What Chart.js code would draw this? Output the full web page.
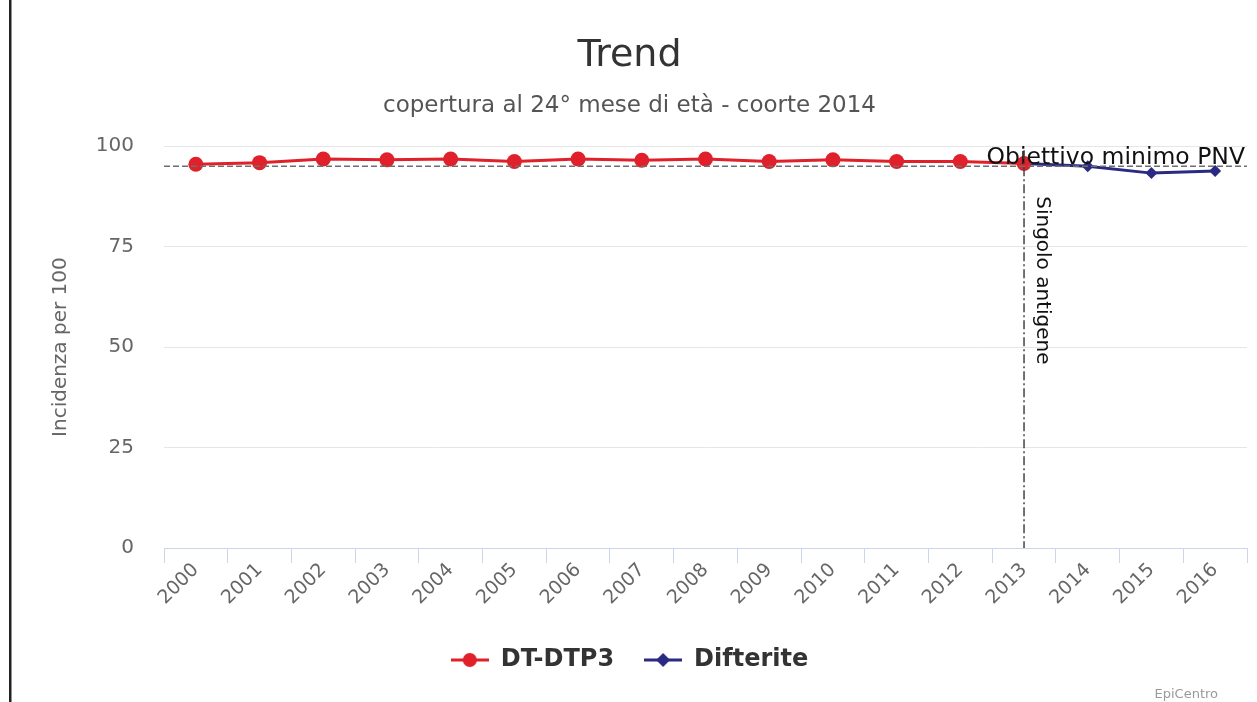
<!DOCTYPE html>
<html>
<head>
<meta charset="utf-8">
<script src="https://cdn.jsdelivr.net/npm/chart.js@4.4.1/dist/chart.umd.min.js"></script>
<style>
  html, body { margin: 0; padding: 0; background: #fff; }
  #wrap { width: 1257px; height: 702px; position: relative; }
</style>
</head>
<body>
<div id="wrap"><canvas id="chart"></canvas></div>
<script>
const years = ['2000','2001','2002','2003','2004','2005','2006','2007','2008',
               '2009','2010','2011','2012','2013','2014','2015','2016'];
const dtDtp3 = [95.5, 95.9, 96.8, 96.6, 96.8, 96.2, 96.8, 96.5, 96.8,
                96.2, 96.6, 96.2, 96.2, 95.7, null, null, null];
const difterite = [null, null, null, null, null, null, null, null, null,
                   null, null, null, null, 95.7, 95.0, 93.3, 93.8];
const yTicks = [0, 25, 50, 75, 100];
const goalValue = 95;
const goalLabel = 'Obiettivo minimo PNV';
const switchYear = '2013';
const switchLabel = 'Singolo antigene';

const RED = '#e0202a';
const BLUE = '#2a2a82';

// legend symbols: line with marker, like the original
function legendIcon(color, shape) {
    const c = document.createElement('canvas');
    c.width = 38; c.height = 16;
    const g = c.getContext('2d');
    g.strokeStyle = color; g.lineWidth = 3;
    g.beginPath(); g.moveTo(0, 8); g.lineTo(38, 8); g.stroke();
    g.fillStyle = color;
    g.beginPath();
    if (shape === 'circle') {
        g.arc(19, 8, 7, 0, Math.PI * 2);
    } else {
        g.moveTo(19, 1); g.lineTo(26, 8); g.lineTo(19, 15); g.lineTo(12, 8); g.closePath();
    }
    g.fill();
    return c;
}
const icons = [legendIcon(RED, 'circle'), legendIcon(BLUE, 'diamond')];

const extras = {
    id: 'extras',
    afterDatasetsDraw(chart) {
        const ctx = chart.ctx, a = chart.chartArea;
        const x = chart.scales.x, y = chart.scales.y;
        ctx.save();
        // goal line
        const gy = y.getPixelForValue(goalValue);
        ctx.strokeStyle = '#6e6e6e';
        ctx.lineWidth = 1.5;
        ctx.setLineDash([6, 3]);
        ctx.beginPath(); ctx.moveTo(a.left, gy); ctx.lineTo(a.right, gy); ctx.stroke();
        ctx.setLineDash([]);
        ctx.fillStyle = '#111';
        ctx.font = '23.5px "DejaVu Sans"';
        ctx.textAlign = 'right';
        ctx.textBaseline = 'bottom';
        ctx.fillText(goalLabel, a.right - 2, gy + 3);
        // single antigen switch
        const sx = x.getPixelForValue(years.indexOf(switchYear));
        ctx.strokeStyle = '#444';
        ctx.lineWidth = 1.5;
        ctx.setLineDash([9, 3, 2, 3]);
        ctx.beginPath(); ctx.moveTo(sx, a.top + 4); ctx.lineTo(sx, a.bottom); ctx.stroke();
        ctx.setLineDash([]);
        ctx.translate(sx + 8, a.top + 50);
        ctx.rotate(Math.PI / 2);
        ctx.textAlign = 'left';
        ctx.textBaseline = 'bottom';
        ctx.font = '20px "DejaVu Sans"';
        ctx.fillText(switchLabel, 0, 0);
        ctx.restore();
    },
    afterDraw(chart) {
        const ctx = chart.ctx;
        ctx.save();
        ctx.fillStyle = '#222';
        ctx.fillRect(9, 0, 2.5, chart.height);
        ctx.fillStyle = '#999';
        ctx.font = '13px "DejaVu Sans"';
        ctx.textAlign = 'right';
        ctx.textBaseline = 'alphabetic';
        ctx.fillText('EpiCentro', 1218, 698);
        ctx.restore();
    }
};

new Chart(document.getElementById('chart'), {
    type: 'line',
    data: {
        labels: years,
        datasets: [
            {
                label: 'DT-DTP3',
                data: dtDtp3,
                borderColor: RED,
                backgroundColor: RED,
                borderWidth: 3,
                pointStyle: 'circle',
                pointRadius: 7.5,
                pointHoverRadius: 7.5,
                pointBorderWidth: 0,
                spanGaps: false,
                clip: false
            },
            {
                label: 'Difterite',
                data: difterite,
                borderColor: BLUE,
                backgroundColor: BLUE,
                borderWidth: 3,
                pointStyle: 'rectRot',
                pointRadius: 6,
                pointHoverRadius: 6,
                pointBorderWidth: 0,
                clip: false
            }
        ]
    },
    options: {
        responsive: true,
        maintainAspectRatio: false,
        animation: false,
        layout: { padding: { left: 12, right: 10, top: 33, bottom: 20 } },
        plugins: {
            title: {
                display: true,
                text: 'Trend',
                color: '#333',
                font: { family: 'DejaVu Sans', size: 38, weight: 'normal' },
                padding: { top: 0, bottom: 14 }
            },
            subtitle: {
                display: true,
                text: 'copertura al 24° mese di età - coorte 2014',
                color: '#555',
                font: { family: 'DejaVu Sans', size: 23 },
                padding: { top: 0, bottom: 26 }
            },
            legend: {
                position: 'bottom',
                labels: {
                    color: '#333',
                    font: { family: 'DejaVu Sans', size: 24, weight: 'bold' },
                    usePointStyle: true,
                    pointStyleWidth: 38,
                    padding: 30,
                    generateLabels(chart) {
                        const items = Chart.defaults.plugins.legend.labels.generateLabels(chart);
                        items.forEach((it, i) => { it.pointStyle = icons[i]; });
                        return items;
                    }
                }
            },
            tooltip: { enabled: false }
        },
        scales: {
            x: {
                offset: true,
                grid: {
                    offset: true,
                    drawOnChartArea: false,
                    drawTicks: true,
                    tickLength: 15,
                    color: '#ccd6eb'
                },
                border: { color: '#ccd6eb', width: 1 },
                ticks: {
                    color: '#666',
                    font: { family: 'DejaVu Sans', size: 19 },
                    minRotation: 45,
                    maxRotation: 45,
                    padding: -4
                },
                afterFit(scale) { scale.height = 70; }
            },
            y: {
                min: 0,
                max: 100,
                afterBuildTicks(scale) { scale.ticks = yTicks.map(v => ({ value: v })); },
                grid: { color: '#e6e6e6', drawTicks: false },
                border: { display: false },
                ticks: {
                    color: '#666',
                    font: { family: 'DejaVu Sans', size: 20 },
                    padding: 30
                },
                title: {
                    display: true,
                    text: 'Incidenza per 100',
                    color: '#666',
                    font: { family: 'DejaVu Sans', size: 20 },
                    padding: { top: 37, bottom: 0 }
                },
                afterFit(scale) { scale.width = 152; }
            }
        }
    },
    plugins: [extras]
});
</script>
</body>
</html>
